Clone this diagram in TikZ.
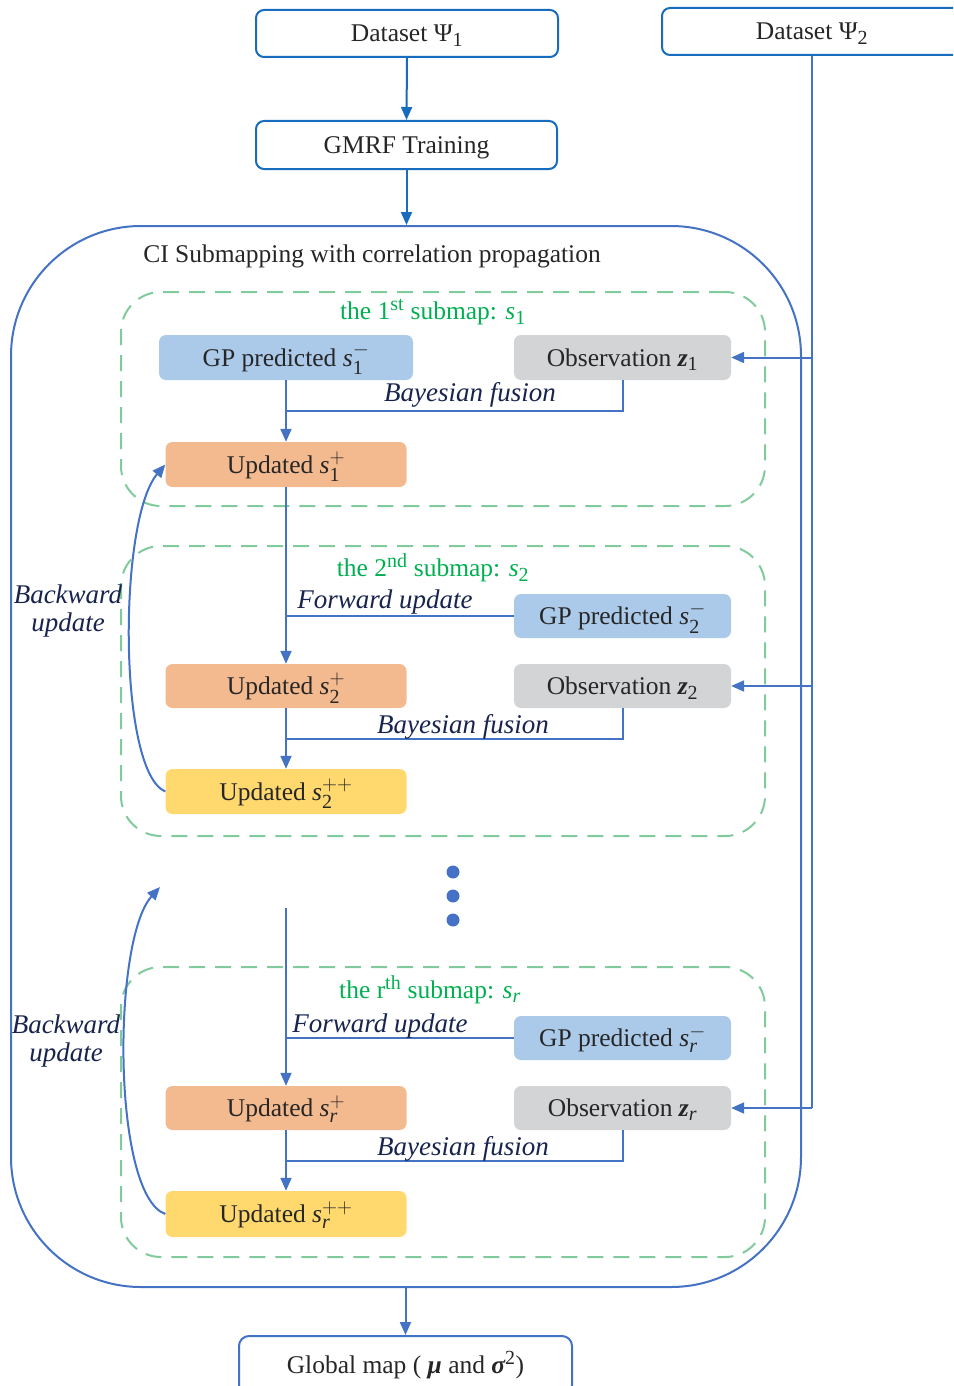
\documentclass[tikz,border=0pt]{standalone}
\usepackage{amsmath}
\usepackage{fontspec}
\setmainfont{Liberation Serif}
\usetikzlibrary{arrows.meta,calc}
\DeclareMathSizes{25.5}{25.5}{20}{15}

% italic and bold-italic symbols set in the text face
\newcommand{\iv}[1]{\text{\normalfont\itshape #1}}
\newcommand{\bv}[1]{\text{\normalfont\bfseries\itshape #1}}
\newcommand{\tn}[1]{\text{\normalfont #1}}

\definecolor{dsblue}{RGB}{24,108,190}
\definecolor{lnblue}{RGB}{68,114,196}
\definecolor{txt}{RGB}{38,38,38}
\definecolor{navy}{RGB}{24,36,78}
\definecolor{subgreen}{RGB}{0,176,80}
\definecolor{dashgreen}{RGB}{128,202,156}
\definecolor{gpfill}{RGB}{171,202,233}
\definecolor{obsfill}{RGB}{211,212,214}
\definecolor{updfill}{RGB}{244,186,143}
\definecolor{uppfill}{RGB}{255,217,110}

\tikzset{
  mainfont/.style={font=\fontsize{25.5}{30}\selectfont},
  dsbox/.style={draw=dsblue, line width=2pt, rounded corners=8pt, fill=white,
    minimum height=47pt, inner sep=0pt, text=txt, mainfont,
    text height=20pt, text depth=3pt},
  fbox/.style={rounded corners=7pt, minimum height=45pt, inner sep=0pt,
    text=txt, mainfont, text height=20pt, text depth=3pt},
  gpbox/.style={fbox, fill=gpfill, minimum width=217pt},
  obsbox/.style={fbox, fill=obsfill, minimum width=217pt},
  updbox/.style={fbox, fill=updfill, minimum width=241pt},
  uppbox/.style={fbox, fill=uppfill, minimum width=241pt},
  conn/.style={draw=lnblue, line width=2pt},
  arr/.style={conn, -{Triangle[length=13pt,width=11pt]}},
  dsarr/.style={draw=dsblue, line width=2pt, -{Triangle[length=13pt,width=11pt]}},
  lbl/.style={text=navy, font=\fontsize{27}{28}\selectfont\itshape, inner sep=0pt},
  sublbl/.style={text=subgreen, mainfont, inner sep=0pt},
  submap/.style={draw=dashgreen, line width=2pt, dash pattern=on 16pt off 10pt,
    rounded corners=40pt, minimum width=644pt, inner sep=0pt},
}

\begin{document}
\begin{tikzpicture}[x=1pt,y=-1pt]
\useasboundingbox (0,0) rectangle (953,1386);
\clip (0,0) rectangle (953,1386);

% inputs and training
\node[dsbox, minimum width=302pt] (d1) at (407,33.5) {Dataset Ψ$_{\tn{1}}$};
\node[dsbox, minimum width=300pt] (d2) at (812,31.5) {Dataset Ψ$_{\tn{2}}$};
\node[dsbox, minimum width=301pt, minimum height=48pt] (gmrf) at (406.5,145) {GMRF Training};

% outer container
\node[draw=lnblue, line width=2pt, rounded corners=130pt,
      minimum width=790pt, minimum height=1061pt, inner sep=0pt] (outer) at (406,756.5) {};
\node[text=txt, mainfont, inner sep=0pt] (title) at (372,256) {CI Submapping with correlation propagation};

\draw[dsarr] (d1.south) -- (gmrf.north);
\draw[dsarr] (gmrf.south) -- (gmrf.south |- outer.north);

% submap 1
\node[submap, minimum height=214pt] (sm1) at (443,399) {};
\node[sublbl] (lab1) at (433,312) {the 1\textsuperscript{st} submap: $\iv{s}_{\tn{1}}$};
\node[fbox, fill=gpfill, minimum width=254pt] (gp1) at (286,357.5) {GP predicted $\iv{s}_{\tn{1}}^{-}$};
\node[obsbox] (obs1) at (622.5,357.5) {Observation $\bv{z}_{\tn{1}}$};
\node[updbox] (up1) at (286,464.5) {Updated $\iv{s}_{\tn{1}}^{+}$};
\draw[arr] (gp1.south) -- (up1.north);
\draw[conn] (obs1.south) |- ($(gp1.south)!.5!(up1.north)$);
\node[lbl] (bf1) at (470,395) {Bayesian fusion};

% submap 2
\node[submap, minimum height=290pt] (sm2) at (443,691) {};
\node[sublbl] (lab2) at (433,568) {the 2\textsuperscript{nd} submap: $\iv{s}_{\tn{2}}$};
\node[gpbox, minimum height=44pt] (gp2) at (622.5,616) {GP predicted $\iv{s}_{\tn{2}}^{-}$};
\node[obsbox, minimum height=44pt] (obs2) at (622.5,686) {Observation $\bv{z}_{\tn{2}}$};
\node[updbox, minimum height=44pt] (up2) at (286,686) {Updated $\iv{s}_{\tn{2}}^{+}$};
\node[uppbox] (upp2) at (286,791.5) {Updated $\iv{s}_{\tn{2}}^{++}$};
\draw[arr] (up1.south) -- (up2.north);
\draw[conn] (gp2.west) -- (gp2.west -| up1.south);
\node[lbl] (fw2) at (385,602) {Forward update};
\draw[arr] (up2.south) -- (upp2.north);
\draw[conn] (obs2.south) |- ($(up2.south)!.5!(upp2.north)$);
\node[lbl] (bf2) at (463,727) {Bayesian fusion};
\draw[arr] (upp2.west) .. controls (118,772) and (118,520) .. (up1.west);
\node[lbl, align=center] (bw2) at (68,611) {Backward\\update};

% omitted submaps
\fill[lnblue] (453,872) circle (6.5pt) (453,896) circle (6.5pt) (453,920) circle (6.5pt);

% submap r
\node[submap, minimum height=290pt] (smr) at (443,1112) {};
\node[sublbl] (labr) at (430,990) {the r\textsuperscript{th} submap: $\iv{s}_{\iv{r}}$};
\node[gpbox, minimum height=44pt] (gpr) at (622.5,1038) {GP predicted $\iv{s}_{\iv{r}}^{-}$};
\node[obsbox, minimum height=44pt] (obsr) at (622.5,1108) {Observation $\bv{z}_{\iv{r}}$};
\node[updbox, minimum height=44pt] (upr) at (286,1108) {Updated $\iv{s}_{\iv{r}}^{+}$};
\node[uppbox, minimum height=46pt] (uppr) at (286,1214) {Updated $\iv{s}_{\iv{r}}^{++}$};
\coordinate (rin) at (286,908);
\coordinate (rback) at (160,887);
\draw[arr] (rin) -- (upr.north);
\draw[conn] (gpr.west) -- (gpr.west -| upr.north);
\node[lbl] (fwr) at (380,1026) {Forward update};
\draw[arr] (upr.south) -- (uppr.north);
\draw[conn] (obsr.south) |- ($(upr.south)!.5!(uppr.north)$);
\node[lbl] (bfr) at (463,1149) {Bayesian fusion};
\draw[arr] (uppr.west) .. controls (112,1195) and (112,940) .. (rback);
\node[lbl, align=center] (bwr) at (66,1041) {Backward\\update};

% observations from dataset 2
\draw[conn] (d2.south) -- (d2.south |- obsr.east);
\draw[arr] (d2.south |- obsr.east) -- (obsr.east);
\draw[arr] (d2.south |- obs2.east) -- (obs2.east);
\draw[arr] (d2.south |- obs1.east) -- (obs1.east);

% output
\node[draw=lnblue, line width=2pt, rounded corners=10pt, fill=white, minimum width=333pt,
      minimum height=59pt, inner sep=0pt, text=txt, mainfont] (gm) at (405.5,1365.5)
      {Global map ( $\bv{μ}$ and $\bv{σ}^{\tn{2}}$)};
\draw[arr] (outer.south -| gm.north) -- (gm.north);
\end{tikzpicture}
\end{document}
